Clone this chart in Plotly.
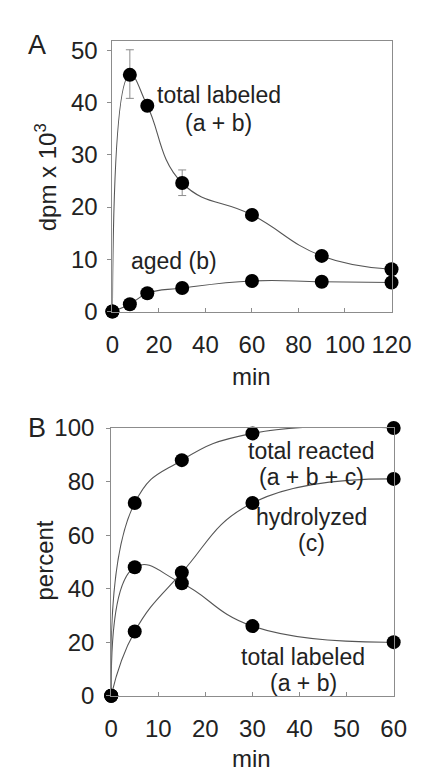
import plotly.graph_objects as go

# Panel A data
a_min = [0, 7.5, 15, 30, 60, 90, 120]
a_total_labeled = [0, 45.3, 39.4, 24.6, 18.5, 10.65, 8.1]
a_total_err_plus = [0, 4.8, 0, 2.5, 0, 0, 0]
a_total_err_minus = [0, 4.5, 0, 2.4, 0, 0, 0]
a_aged = [0, 1.4, 3.5, 4.5, 5.85, 5.7, 5.55]
a_xticks = [0, 20, 40, 60, 80, 100, 120]
a_yticks = [0, 10, 20, 30, 40, 50]

# Panel B data
b_min = [0, 5, 15, 30, 60]
b_total_reacted = [0, 72, 88, 98, 100]
b_hydrolyzed = [0, 24, 46, 72, 81]
b_total_labeled = [0, 48, 42, 26, 20]
b_xticks = [0, 10, 20, 30, 40, 50, 60]
b_yticks = [0, 20, 40, 60, 80, 100]

W, H = 426, 775
FONT = "Liberation Sans, Arial, sans-serif"
LINE = "#555555"
AXIS = "#8c8c8c"
TXT = "#222222"

def px_x(p):
    return p / W

def px_y(p):
    return 1 - p / H

fig = go.Figure()

line_style = dict(color=LINE, width=1.1, shape="spline", smoothing=1.3)
marker_style = dict(color="black", size=14)

fig.add_trace(go.Scatter(
    x=a_min, y=a_total_labeled, mode="lines+markers", line=line_style,
    marker=marker_style, cliponaxis=False, xaxis="x", yaxis="y",
    error_y=dict(type="data", array=a_total_err_plus, arrayminus=a_total_err_minus,
                 symmetric=False, color=AXIS, thickness=1, width=4),
    showlegend=False))
fig.add_trace(go.Scatter(
    x=a_min, y=a_aged, mode="lines+markers", line=line_style,
    marker=marker_style, cliponaxis=False, xaxis="x", yaxis="y", showlegend=False))

for ys in (b_total_reacted, b_hydrolyzed, b_total_labeled):
    fig.add_trace(go.Scatter(
        x=b_min, y=ys, mode="lines+markers", line=line_style,
        marker=marker_style, cliponaxis=False, xaxis="x2", yaxis="y2", showlegend=False))

axis_common = dict(showline=True, linecolor=AXIS, linewidth=1, mirror=True,
                   showgrid=False, zeroline=False, tickcolor=AXIS, ticklen=4,
                   tickfont=dict(family=FONT, size=24, color=TXT))

fig.update_layout(
    width=W, height=H, margin=dict(l=0, r=0, t=0, b=0),
    paper_bgcolor="white", plot_bgcolor="white",
    xaxis=dict(domain=[px_x(104), px_x(402)], range=[0, 120], tickvals=a_xticks,
               ticks="inside", anchor="y", ticklabelstandoff=12, **axis_common),
    yaxis=dict(domain=[px_y(300), px_y(19.3)], range=[0, 51.85], tickvals=a_yticks,
               ticks="outside", anchor="x", ticklabelstandoff=5, **axis_common),
    xaxis2=dict(domain=[px_x(102.7), px_x(404.3)], range=[0, 60], tickvals=b_xticks,
                ticks="inside", anchor="y2", ticklabelstandoff=12, **axis_common),
    yaxis2=dict(domain=[px_y(698), px_y(420.7)], range=[0, 100], tickvals=b_yticks,
                ticks="outside", anchor="x2", ticklabelstandoff=7, **axis_common),
)

def ann(text, x, y, size=23, **kw):
    fig.add_annotation(text=text, x=px_x(x), y=px_y(y), xref="paper", yref="paper",
                       showarrow=False, xanchor="center", yanchor="middle",
                       font=dict(family=FONT, size=size, color=TXT), **kw)

# Panel labels
ann("A", 24, 24, size=27)
ann("B", 23, 421, size=27)
# Axis titles
ann("min", 253, 367, size=24)
ann("dpm x 10<sup>3</sup>", 33, 161, size=24, textangle=-90)
ann("min", 253, 763, size=24)
ann("percent", 32, 558, size=24, textangle=-90)
# Curve labels A
ann("total labeled", 218, 76)
ann("(a + b)", 217, 105)
ann("aged (b)", 170, 248)
# Curve labels B
ann("total reacted", 317, 444)
ann("(a + b + c)", 317, 471)
ann("hydrolyzed", 317, 513)
ann("(c)", 317, 540)
ann("total labeled", 308, 658)
ann("(a + b)", 308, 685)

fig.write_html("out.html")
